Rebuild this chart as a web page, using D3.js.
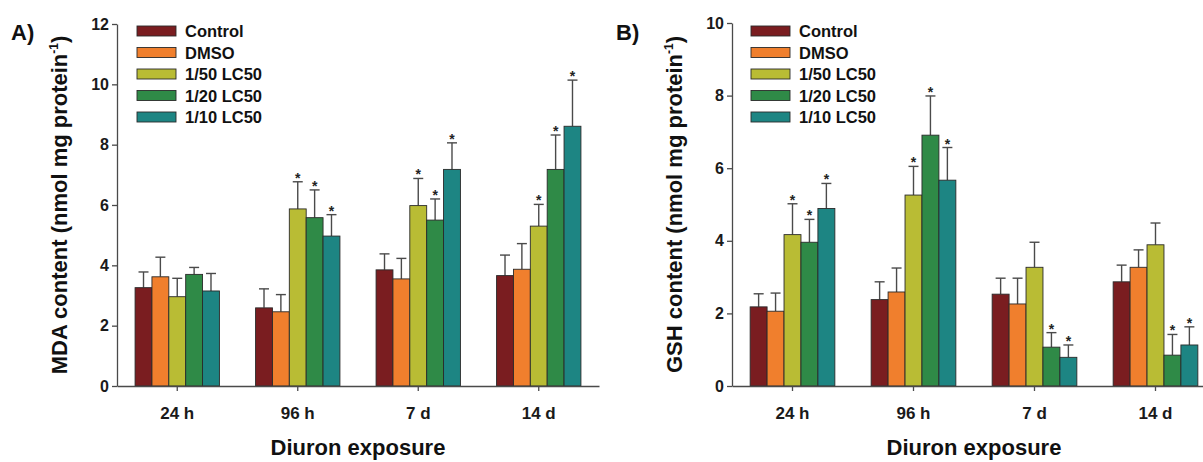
<!DOCTYPE html>
<html>
<head>
<meta charset="utf-8">
<script src="https://cdn.jsdelivr.net/npm/d3@7"></script>
<style>
  body { margin: 0; background: #fff; }
  svg { display: block; font-family: "Liberation Sans", Arial, sans-serif; font-weight: bold; }
  .axis path, .axis line { stroke: #4a4a4a; stroke-width: 1.3; }
  .axis text { font-family: "Liberation Sans", Arial, sans-serif; font-weight: bold; fill: #1a1a1a; }
</style>
</head>
<body>
<svg width="1203" height="462"></svg>
<script>
const groups = ['24 h', '96 h', '7 d', '14 d'];
const treatments = ['Control', 'DMSO', '1/50 LC50', '1/20 LC50', '1/10 LC50'];
const colors = ['#7a1d20', '#f07f2d', '#b9bc34', '#2f8a47', '#1d8583'];

// MDA content, rows = exposure time, cols = treatment
const mdaMean = [
  [3.26, 3.62, 2.96, 3.70, 3.15],
  [2.59, 2.46, 5.87, 5.58, 4.97],
  [3.85, 3.55, 5.98, 5.50, 7.18],
  [3.66, 3.87, 5.30, 7.18, 8.61]
];
const mdaSd = [
  [0.52, 0.65, 0.61, 0.23, 0.58],
  [0.63, 0.57, 0.90, 0.92, 0.71],
  [0.53, 0.68, 0.90, 0.70, 0.88],
  [0.68, 0.85, 0.72, 1.14, 1.53]
];
const mdaSig = [
  [0, 0, 0, 0, 0],
  [0, 0, 1, 1, 1],
  [0, 0, 1, 1, 1],
  [0, 0, 1, 1, 1]
];

// GSH content
const gshMean = [
  [2.18, 2.06, 4.17, 3.96, 4.89],
  [2.38, 2.59, 5.26, 6.91, 5.67],
  [2.53, 2.26, 3.27, 1.07, 0.79],
  [2.87, 3.27, 3.89, 0.85, 1.13]
];
const gshSd = [
  [0.36, 0.50, 0.85, 0.63, 0.69],
  [0.49, 0.66, 0.79, 1.08, 0.90],
  [0.44, 0.71, 0.69, 0.40, 0.34],
  [0.46, 0.48, 0.60, 0.57, 0.50]
];
const gshSig = [
  [0, 0, 1, 1, 1],
  [0, 0, 1, 1, 1],
  [0, 0, 0, 1, 1],
  [0, 0, 0, 1, 1]
];

const mdaTicks = [0, 2, 4, 6, 8, 10, 12];
const gshTicks = [0, 2, 4, 6, 8, 10];

const svg = d3.select('svg');
svg.append('rect').attr('width', 1203).attr('height', 462).attr('fill', '#fff');

function drawPanel(p) {
  const g = svg.append('g');

  const x = d3.scaleBand()
    .domain(groups)
    .range([p.left, p.right])
    .paddingInner(0.3)
    .paddingOuter(0.15);

  const xi = d3.scaleBand()
    .domain(treatments)
    .range([0, x.bandwidth()]);

  const y = d3.scaleLinear()
    .domain([0, p.yMax])
    .range([386, p.top]);

  // bars
  const rows = g.selectAll('.grp')
    .data(p.mean)
    .enter()
    .append('g')
    .attr('transform', (d, i) => `translate(${x(groups[i])},0)`);

  rows.each(function (row, gi) {
    const sel = d3.select(this);
    const items = row.map((v, ti) => ({
      t: treatments[ti], v: v, sd: p.sd[gi][ti], sig: p.sig[gi][ti], c: colors[ti]
    }));

    // error bars first so the bar covers the lower half
    sel.selectAll('.err')
      .data(items)
      .enter()
      .append('line')
      .attr('x1', (d) => xi(d.t) + xi.bandwidth() / 2)
      .attr('x2', (d) => xi(d.t) + xi.bandwidth() / 2)
      .attr('y1', (d) => y(d.v))
      .attr('y2', (d) => y(d.v + d.sd))
      .attr('stroke', '#4a4a4a')
      .attr('stroke-width', 1.4);

    sel.selectAll('.cap')
      .data(items)
      .enter()
      .append('line')
      .attr('x1', (d) => xi(d.t) + xi.bandwidth() / 2 - 5)
      .attr('x2', (d) => xi(d.t) + xi.bandwidth() / 2 + 5)
      .attr('y1', (d) => y(d.v + d.sd))
      .attr('y2', (d) => y(d.v + d.sd))
      .attr('stroke', '#4a4a4a')
      .attr('stroke-width', 1.4);

    sel.selectAll('.bar')
      .data(items)
      .enter()
      .append('rect')
      .attr('x', (d) => xi(d.t))
      .attr('y', (d) => y(d.v))
      .attr('width', xi.bandwidth())
      .attr('height', (d) => y(0) - y(d.v))
      .attr('fill', (d) => d.c)
      .attr('stroke', '#2a2a2a')
      .attr('stroke-width', 0.9);

    sel.selectAll('.star')
      .data(items.filter((d) => d.sig))
      .enter()
      .append('text')
      .attr('x', (d) => xi(d.t) + xi.bandwidth() / 2)
      .attr('y', (d) => y(d.v + d.sd) + 1)
      .attr('text-anchor', 'middle')
      .attr('font-size', 14)
      .attr('fill', '#222')
      .text('*');
  });

  // axes
  g.append('g')
    .attr('class', 'axis')
    .attr('transform', `translate(${p.left},0)`)
    .call(d3.axisLeft(y).tickValues(p.ticks).tickSize(5).tickSizeOuter(0).tickPadding(3))
    .call((a) => a.selectAll('text').attr('font-size', 16));

  g.append('g')
    .attr('class', 'axis')
    .attr('transform', 'translate(0,386)')
    .call(d3.axisBottom(x).tickSize(5).tickSizeOuter(0).tickPadding(16))
    .call((a) => a.selectAll('text').attr('font-size', 17));

  // panel letter
  svg.append('text')
    .attr('x', p.labelX)
    .attr('y', 40)
    .attr('font-size', 22)
    .attr('fill', '#111')
    .text(p.label);

  // y title
  const yt = svg.append('text')
    .attr('transform', `translate(${p.left - 50},${(p.top + 386) / 2}) rotate(-90)`)
    .attr('text-anchor', 'middle')
    .attr('font-size', 22)
    .attr('fill', '#111');
  yt.append('tspan').text(p.ytitle + ' (nmol mg protein');
  yt.append('tspan').attr('font-size', 12).attr('dy', -9).text('-1');
  yt.append('tspan').attr('dy', 9).text(')');

  // x title
  svg.append('text')
    .attr('x', (p.left + p.right) / 2)
    .attr('y', 455)
    .attr('text-anchor', 'middle')
    .attr('font-size', 22)
    .attr('fill', '#111')
    .text('Diuron exposure');

  // legend
  const leg = svg.append('g')
    .attr('transform', `translate(${p.legX},26)`);
  treatments.forEach((t, i) => {
    leg.append('rect')
      .attr('x', 0)
      .attr('y', i * 21.5)
      .attr('width', 39)
      .attr('height', 10)
      .attr('fill', colors[i])
      .attr('stroke', '#2a2a2a')
      .attr('stroke-width', 0.9);
    leg.append('text')
      .attr('x', 48)
      .attr('y', i * 21.5 + 11)
      .attr('font-size', 16.5)
      .attr('fill', '#111')
      .text(t);
  });
}

drawPanel({
  left: 117, right: 599, top: 24, yMax: 12, ticks: mdaTicks,
  mean: mdaMean, sd: mdaSd, sig: mdaSig,
  label: 'A)', labelX: 11, ytitle: 'MDA content', legX: 137
});

drawPanel({
  left: 732, right: 1216, top: 23, yMax: 10, ticks: gshTicks,
  mean: gshMean, sd: gshSd, sig: gshSig,
  label: 'B)', labelX: 616, ytitle: 'GSH content', legX: 751
});
</script>
</body>
</html>
